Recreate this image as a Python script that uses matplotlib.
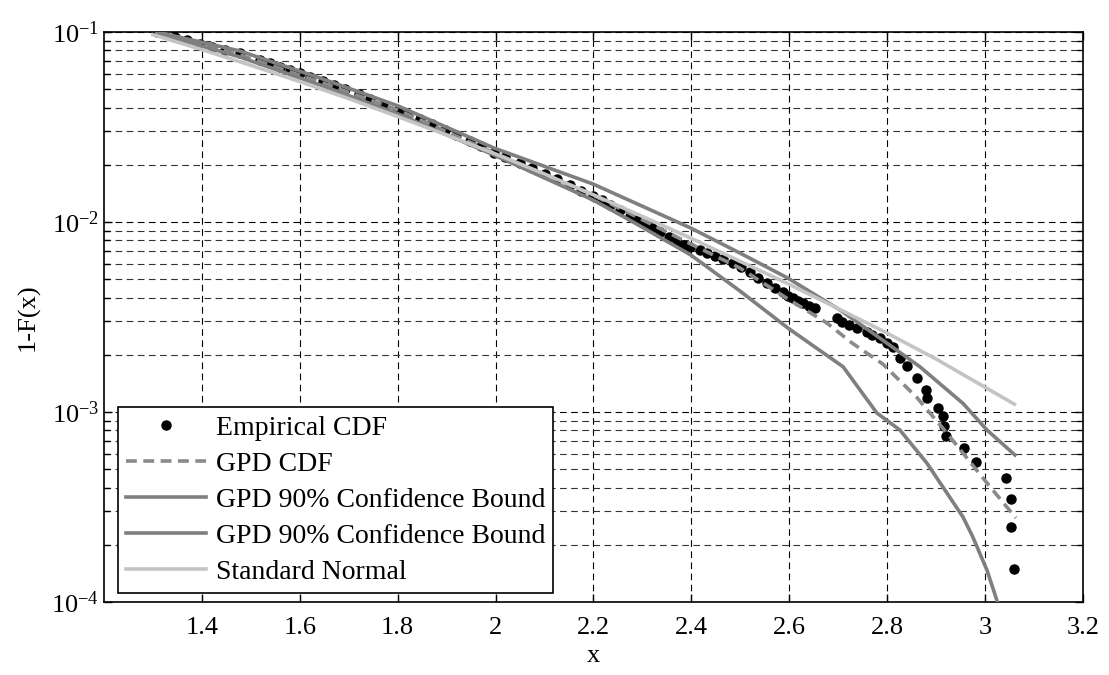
import matplotlib
matplotlib.use("Agg")
import matplotlib.pyplot as plt
from matplotlib.ticker import LogLocator, FixedLocator, NullFormatter

plt.rcParams["font.family"] = ["Liberation Serif", "DejaVu Serif"]
plt.rcParams["mathtext.fontset"] = "custom"
plt.rcParams["mathtext.rm"] = "Liberation Serif"

# empirical tail points (x, 1-F)
emp_x = [1.308, 1.345, 1.37, 1.396, 1.42, 1.447, 1.478, 1.519, 1.54, 1.560, 1.58,
         1.600, 1.62, 1.647, 1.67, 1.692, 1.72, 1.743, 1.77, 1.801, 1.82, 1.846,
         1.87, 1.897, 1.92, 1.948, 1.97, 1.997, 2.02, 2.050, 2.075, 2.101, 2.125,
         2.152, 2.175, 2.199, 2.217, 2.234, 2.255, 2.275, 2.290, 2.305, 2.320,
         2.336, 2.354, 2.371, 2.385, 2.397, 2.418, 2.432, 2.448, 2.465, 2.485,
         2.502, 2.520, 2.537, 2.554, 2.570, 2.587, 2.597, 2.608, 2.618, 2.628,
         2.640, 2.652, 2.697, 2.708, 2.722, 2.738, 2.759, 2.770, 2.785, 2.800,
         2.812, 2.826, 2.840, 2.861, 2.879, 2.881, 2.904, 2.914, 2.916, 2.920,
         2.957, 2.981, 3.043, 3.053, 3.053, 3.059]
emp_y = [0.1, 0.0942, 0.0905, 0.0865, 0.0835, 0.0804, 0.0775, 0.0712, 0.0683, 0.0655, 0.063,
         0.0608, 0.058, 0.0552, 0.0527, 0.0501, 0.047, 0.0444, 0.0415, 0.0388, 0.0370, 0.0348,
         0.0327, 0.0305, 0.0287, 0.0267, 0.0250, 0.0231, 0.0219, 0.0205, 0.0192, 0.0179, 0.0168,
         0.01567, 0.0146, 0.01371, 0.0130, 0.01229, 0.0115, 0.01076, 0.0102, 0.00976, 0.0093,
         0.00885, 0.0083, 0.00785, 0.0076, 0.00738, 0.00712, 0.0069, 0.00662, 0.0064, 0.00608,
         0.0058, 0.00545, 0.0051, 0.00477, 0.0045, 0.00428, 0.0041, 0.00398, 0.00385, 0.00375,
         0.00362, 0.00352, 0.00313, 0.00298, 0.00288, 0.00277, 0.00264, 0.00255, 0.00245, 0.00231,
         0.00220, 0.00192, 0.00175, 0.00151, 0.00131, 0.00119, 0.00105, 0.000953, 0.000844, 0.000748,
         0.000647, 0.000546, 0.000450, 0.000348, 0.000248, 0.000149]

gpd_x = [1.308, 1.478, 1.647, 1.801, 1.997, 2.199, 2.399, 2.499, 2.601, 2.677, 2.728,
         2.791, 2.861, 2.922, 3.004, 3.063]
gpd_y = [0.1, 0.0757, 0.0539, 0.0388, 0.0231, 0.01387, 0.00766, 0.00573, 0.00388, 0.00294,
         0.00231, 0.00179, 0.00119, 0.000775, 0.000423, 0.000277]

upper_x = [1.308, 1.478, 1.647, 1.801, 1.997, 2.199, 2.399, 2.499, 2.597, 2.704, 2.785,
           2.867, 2.955, 3.004, 3.061]
upper_y = [0.1, 0.0794, 0.0566, 0.0408, 0.0245, 0.01585, 0.00929, 0.00687, 0.00507, 0.00344,
           0.00245, 0.00173, 0.00111, 0.000804, 0.000594]

lower_x = [1.308, 1.478, 1.647, 1.801, 1.997, 2.199, 2.281, 2.399, 2.499, 2.597, 2.710,
           2.779, 2.826, 2.881, 2.922, 2.955, 2.975, 3.004, 3.026]
lower_y = [0.0988, 0.0738, 0.0520, 0.0370, 0.0225, 0.01306, 0.0100, 0.00670, 0.00434,
           0.00277, 0.00173, 0.000988, 0.000804, 0.000539, 0.000375, 0.000280, 0.000220,
           0.000147, 0.0000988]

norm_x = [1.30, 1.40, 1.50, 1.60, 1.70, 1.80, 1.90, 2.00, 2.10, 2.20, 2.30, 2.40, 2.50,
          2.60, 2.70, 2.80, 2.90, 3.00, 3.06]
norm_y = [0.0968, 0.0808, 0.0668, 0.0548, 0.0446, 0.0359, 0.0287, 0.0228, 0.0179, 0.0139,
          0.0107, 0.0082, 0.0062, 0.0047, 0.0035, 0.0026, 0.0019, 0.00135, 0.0011]

fig = plt.figure(figsize=(11.09, 6.75), dpi=100)
ax = fig.add_axes([0.0938, 0.1081, 0.8827, 0.8445])

ax.semilogy(emp_x, emp_y, "o", color="black", ms=6.5, mec="black", label="Empirical CDF", zorder=2)
ax.semilogy(gpd_x, gpd_y, "--", color="#8a8a8a", lw=2.6, dashes=(3, 1.8), label="GPD CDF", zorder=3)
ax.semilogy(upper_x, upper_y, "-", color="#7f7f7f", lw=2.6, label="GPD 90% Confidence Bound", zorder=3)
ax.semilogy(lower_x, lower_y, "-", color="#7f7f7f", lw=2.6, label="GPD 90% Confidence Bound", zorder=3)
ax.semilogy(norm_x, norm_y, "-", color="#c4c4c4", lw=2.6, label="Standard Normal", zorder=3)

ax.set_xlim(1.2, 3.2)
ax.set_ylim(1e-4, 1e-1)
ax.set_xticks([1.4, 1.6, 1.8, 2.0, 2.2, 2.4, 2.6, 2.8, 3.0, 3.2])
ax.set_xticklabels(["1.4", "1.6", "1.8", "2", "2.2", "2.4", "2.6", "2.8", "3", "3.2"])
ax.yaxis.set_major_locator(FixedLocator([1e-4, 1e-3, 1e-2, 1e-1]))
ax.set_yticklabels([r"$\mathregular{10^{-4}}$", r"$\mathregular{10^{-3}}$",
                    r"$\mathregular{10^{-2}}$", r"$\mathregular{10^{-1}}$"])
ax.yaxis.set_minor_locator(LogLocator(base=10, subs=range(2, 10)))
ax.yaxis.set_minor_formatter(NullFormatter())

ax.tick_params(which="both", direction="in", top=True, right=True, labelsize=19)
ax.tick_params(which="major", length=6, width=1)
ax.tick_params(which="minor", length=4, width=1)
ax.tick_params(axis="x", which="major", pad=11)

ax.grid(True, which="major", linestyle=(0, (6, 4)), color="black", lw=0.8)
ax.grid(True, which="minor", axis="y", linestyle=(0, (6, 4)), color="#333333", lw=0.8)
ax.set_axisbelow(True)
for s in ax.spines.values():
    s.set_linewidth(1.2)

ax.set_xlabel("x", fontsize=19, labelpad=4)
ax.set_ylabel("1-F(x)", fontsize=19, labelpad=8)

leg = ax.legend(loc="lower left", bbox_to_anchor=(0.0143, 0.0158), borderaxespad=0,
                fontsize=20, numpoints=1, fancybox=False, edgecolor="black",
                handlelength=2.85, handletextpad=0.36, labelspacing=0.38, borderpad=0.3)
leg.get_frame().set_linewidth(1.2)
leg.get_frame().set_alpha(1)

fig.savefig("out.png", dpi=100)
